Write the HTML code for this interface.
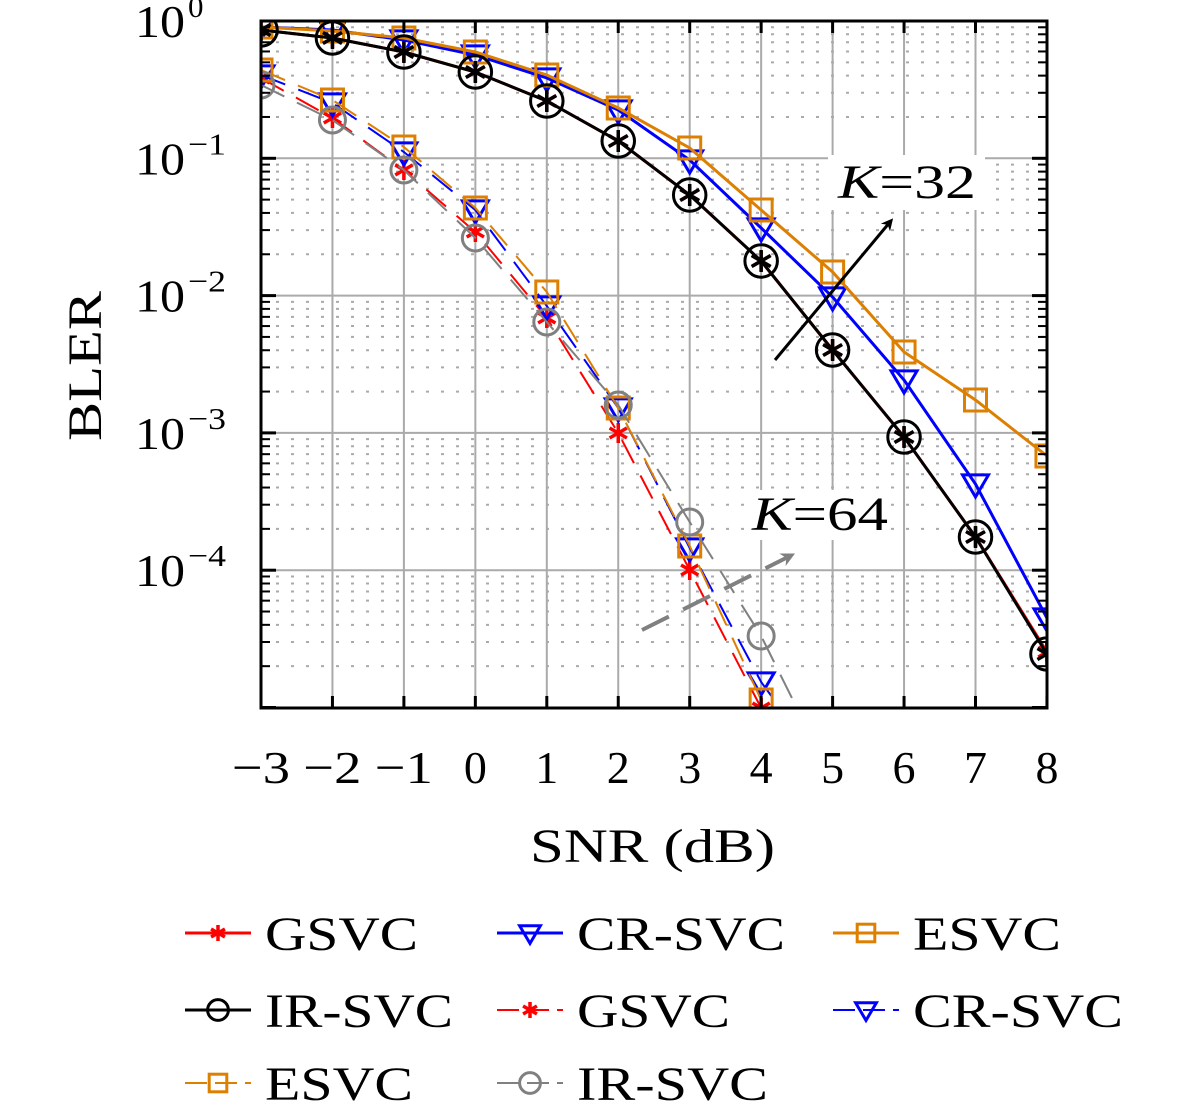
<!DOCTYPE html>
<html><head><meta charset="utf-8"><style>
body{margin:0;background:#fff}
svg{display:block}
text{font-family:"Liberation Serif",serif;fill:#000}
</style></head><body>
<svg id="s" width="1181" height="1108" viewBox="0 0 1181 1108" xmlns="http://www.w3.org/2000/svg">
<defs><clipPath id="c"><rect x="261" y="21" width="786" height="687"/></clipPath>
<marker id="ah" viewBox="0 0 10 10" refX="6" refY="5" markerWidth="4" markerHeight="4" orient="auto"><path d="M0,0 L10,5 L0,10 L3,5z" fill="#000"/></marker>
<marker id="ahg" viewBox="0 0 10 10" refX="6" refY="5" markerWidth="3.5" markerHeight="3.5" orient="auto"><path d="M0,0 L10,5 L0,10 L3,5z" fill="#808080"/></marker>
</defs>
<g id="grid"></g>
<g id="plot" clip-path="url(#c)"></g>
<g id="ann"></g>
<rect x="261" y="21" width="786" height="687" fill="none" stroke="#000" stroke-width="3"/>
<g id="ticks"></g>
<g id="leg"></g>
</svg>
<script>
const NS="http://www.w3.org/2000/svg";
function el(p,t,a,txt){const e=document.createElementNS(NS,t);for(const k in a)e.setAttribute(k,a[k]);if(txt!=null)e.textContent=txt;document.getElementById(p).appendChild(e);return e;}
const X=s=>261+(s+3)*71.45, Y=d=>21+d*137.3;
for(let s=-3;s<=8;s++){el('grid','line',{x1:X(s),x2:X(s),y1:21,y2:708,stroke:'#aaa','stroke-width':2});}
for(let d=0;d<5;d++){for(let m=2;m<=9;m++){const y=Y(d+1-Math.log10(m));el('grid','line',{x1:261,x2:1047,y1:y,y2:y,stroke:'#aaa','stroke-width':2,'stroke-dasharray':'3,12'});
 el('ticks','line',{x1:261,x2:270,y1:y,y2:y,stroke:'#000','stroke-width':2});el('ticks','line',{x1:1038,x2:1047,y1:y,y2:y,stroke:'#000','stroke-width':2});}}
for(let d=1;d<5;d++){const y=Y(d);el('grid','line',{x1:261,x2:1047,y1:y,y2:y,stroke:'#aaa','stroke-width':2});}
for(let d=0;d<=5;d++){const y=Y(d);el('ticks','line',{x1:261,x2:276,y1:y,y2:y,stroke:'#000','stroke-width':3});el('ticks','line',{x1:1032,x2:1047,y1:y,y2:y,stroke:'#000','stroke-width':3});}
for(let s=-3;s<=8;s++){el('ticks','line',{x1:X(s),x2:X(s),y1:21,y2:33,stroke:'#000','stroke-width':3});el('ticks','line',{x1:X(s),x2:X(s),y1:696,y2:708,stroke:'#000','stroke-width':3});
 const a={x:X(s),y:783,'font-size':46,'text-anchor':'middle'}; if(s<0){a.textLength=58;a.lengthAdjust='spacingAndGlyphs';}
 el('ticks','text',a,(s<0?'\u2212':'')+Math.abs(s));}
for(let d=0;d<=4;d++){el('ticks','text',{x:135,y:Y(d)+16,'font-size':46,textLength:50,lengthAdjust:'spacingAndGlyphs'},'10');
 const a={x:188,y:Y(d)-4,'font-size':31}; if(d>0){a.textLength=38;a.lengthAdjust='spacingAndGlyphs';}
 el('ticks','text',a,d==0?'0':'\u2212'+d);}
el('ticks','text',{x:530,y:862,'font-size':48,textLength:245,lengthAdjust:'spacingAndGlyphs'},'SNR (dB)');
el('ticks','text',{x:0,y:0,'font-size':48,'text-anchor':'middle',textLength:150,lengthAdjust:'spacingAndGlyphs',transform:'translate(101,366) rotate(-90)'},'BLER');
function mk(g,type,x,y,col,sz){sz=sz||1;const w=3;
 if(type=='star'){const r=10*sz;for(let i=0;i<3;i++){const a=Math.PI/3*i+Math.PI/2;el(g,'line',{x1:x-r*Math.cos(a),y1:y-r*Math.sin(a),x2:x+r*Math.cos(a),y2:y+r*Math.sin(a),stroke:col,'stroke-width':3.5});}}
 if(type=='tri'){const r=13*sz;el(g,'path',{d:`M${x-r},${y-r*0.7}L${x+r},${y-r*0.7}L${x},${y+r*1.0}Z`,fill:'none',stroke:col,'stroke-width':w});}
 if(type=='sq'){const r=11*sz;el(g,'rect',{x:x-r,y:y-r,width:2*r,height:2*r,fill:'none',stroke:col,'stroke-width':w});}
 if(type=='circ'){el(g,'circle',{cx:x,cy:y,r:13*sz,fill:'none',stroke:col,'stroke-width':w});}
}
const xs=[-3,-2,-1,0,1,2,3,4,5,6,7,8];
const S=[
 {c:'#ff0000',m:'star',d:[30,38,52,72,101,141,195,261,350,437,537,652]},
 {c:'#0000ff',m:'tri',d:[27,30,40,55,78,110,160,228,297,380,484,618]},
 {c:'#dd7f00',m:'sq',d:[27,31,38,52,75,108,148,210,272,352,400,456]},
 {c:'#000000',m:'circ',d:[30,38,52,72,101,141,195,261,350,437,537,654],cs:1.25,star:1},
];
const D=[
 {c:'#ff0000',m:'star',d:[78,118,170,232,318,433,570,708]},
 {c:'#0000ff',m:'tri',d:[75,103,152,210,306,408,548,682,780]},
 {c:'#dd7f00',m:'sq',d:[70,100,147,208,292,408,546,700]},
 {c:'#808080',m:'circ',d:[85,120,170,238,322,405,522,636,780]},
];
D.forEach(s=>{el('plot','polyline',{points:s.d.map((y,i)=>X(xs[i])+','+y).join(' '),fill:'none',stroke:s.c,'stroke-width':2,'stroke-dasharray':'26,14'});s.d.forEach((y,i)=>mk('plot',s.m,X(xs[i]),y,s.c));});
S.forEach(s=>{el('plot','polyline',{points:s.d.map((y,i)=>X(xs[i])+','+y).join(' '),fill:'none',stroke:s.c,'stroke-width':3});s.d.forEach((y,i)=>{mk('plot',s.m,X(xs[i]),y,s.c,s.cs);if(s.star)mk('plot','star',X(xs[i]),y,'#000',1.1);});});
el('ann','line',{x1:775,y1:360,x2:890,y2:222,stroke:'#000','stroke-width':3,'marker-end':'url(#ah)'});
el('ann','rect',{x:828,y:155,width:157,height:55,fill:'#fff'});
el('ann','text',{x:838,y:198,'font-size':48,textLength:138,lengthAdjust:'spacingAndGlyphs'},'').innerHTML='<tspan font-style="italic">K</tspan>=32';
el('ann','line',{x1:642,y1:630,x2:790,y2:556,stroke:'#808080','stroke-width':4,'stroke-dasharray':'30,16','marker-end':'url(#ahg)'});
el('ann','rect',{x:745,y:490,width:145,height:50,fill:'#fff'});
el('ann','text',{x:752,y:530,'font-size':48,textLength:136,lengthAdjust:'spacingAndGlyphs'},'').innerHTML='<tspan font-style="italic">K</tspan>=64';
const L=[
 [185,933,'#ff0000','star',0,'GSVC',153],[497,933,'#0000ff','tri',0,'CR-SVC',208],[833,933,'#dd7f00','sq',0,'ESVC',148],
 [185,1010,'#000000','circ',0,'IR-SVC',188],[497,1010,'#ff0000','star',1,'GSVC',153],[833,1010,'#0000ff','tri',1,'CR-SVC',210],
 [185,1083,'#dd7f00','sq',1,'ESVC',148],[497,1083,'#808080','circ',1,'IR-SVC',191]];
L.forEach(l=>{el('leg','line',{x1:l[0],x2:l[0]+66,y1:l[1],y2:l[1],stroke:l[2],'stroke-width':l[4]?2:3,'stroke-dasharray':l[4]?'22,8':'none'});
 mk('leg',l[3],l[0]+33,l[1],l[2],0.8);
 el('leg','text',{x:l[0]+80,y:l[1]+17,'font-size':48,textLength:l[6],lengthAdjust:'spacingAndGlyphs'},l[5]);});
</script>
</body></html>
